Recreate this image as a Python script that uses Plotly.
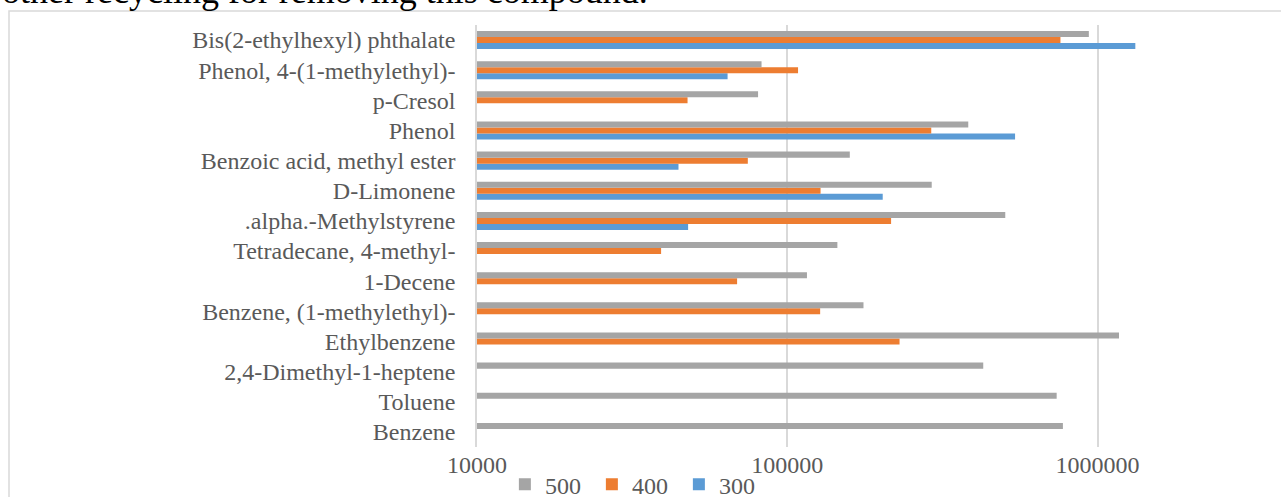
import plotly.graph_objects as go

# Compounds, listed bottom to top as they appear on the category axis
compounds = [
    "Benzene",
    "Toluene",
    "2,4-Dimethyl-1-heptene",
    "Ethylbenzene",
    "Benzene, (1-methylethyl)-",
    "1-Decene",
    "Tetradecane, 4-methyl-",
    ".alpha.-Methylstyrene",
    "D-Limonene",
    "Benzoic acid, methyl ester",
    "Phenol",
    "p-Cresol",
    "Phenol, 4-(1-methylethyl)-",
    "Bis(2-ethylhexyl) phthalate",
]

# Peak areas per temperature series (None = not detected)
area_500 = [773000, 738000, 428000, 1172000, 176000, 115700, 145000,
            504000, 292000, 159000, 383000, 80500, 82600, 937000]
area_400 = [None, None, None, 230000, 127600, 68900, 39200,
            216000, 128000, 74600, 291000, 47700, 108300, 759000]
area_300 = [None, None, None, None, None, None, None,
            47900, 203000, 44600, 542000, None, 64200, 1323000]

x_tick_values = [10000, 100000, 1000000]
x_tick_labels = ["10000", "100000", "1000000"]

series = [("300", area_300, "#5B9BD5"),
          ("400", area_400, "#ED7D31"),
          ("500", area_500, "#A5A5A5")]

FONT = "Liberation Serif, Times New Roman, serif"
TEXT_GRAY = "#595959"
GRID = "#D9D9D9"

fig = go.Figure()
for name, vals, color in series:
    fig.add_trace(go.Bar(
        y=compounds, x=vals, name=name, orientation="h",
        marker=dict(color=color, line=dict(width=0)),
    ))

W, H = 1281, 497
ML, MR, MT, MB = 477, 0, 25, 50
plot_h = H - MT - MB
plot_w = W - ML - MR

fig.update_layout(
    width=W, height=H,
    margin=dict(l=ML, r=MR, t=MT, b=MB, pad=0, autoexpand=False),
    paper_bgcolor="white", plot_bgcolor="white",
    barmode="group", bargap=0.4, bargroupgap=0,
    font=dict(family=FONT, size=24, color=TEXT_GRAY),
    showlegend=True,
    legend=dict(
        orientation="h", traceorder="reversed",
        xref="container", yref="container",
        x=0.496, xanchor="center", y=0.07, yanchor="top",
        font=dict(family=FONT, size=24, color=TEXT_GRAY),
        entrywidth=42, itemwidth=30,
        bgcolor="rgba(0,0,0,0)",
    ),
)

fig.update_xaxes(
    type="log", range=[4, 6.591], automargin=False,
    tickvals=x_tick_values, ticktext=x_tick_labels,
    showgrid=True, gridcolor=GRID, gridwidth=1.5,
    zeroline=False, showline=False, ticks="",
    ticklabelstandoff=1,
    tickfont=dict(family=FONT, size=24, color=TEXT_GRAY),
)
fig.update_yaxes(
    type="category", categoryorder="array", categoryarray=compounds,
    tickmode="array", tickvals=compounds, ticktext=compounds,
    automargin=False,
    showgrid=False, showline=True, linecolor=GRID, linewidth=1.5,
    ticks="", ticklabelstandoff=15,
    tickfont=dict(family=FONT, size=24, color=TEXT_GRAY),
)

# Chart frame (extends well past the right and bottom of the page)
fig.add_shape(
    type="rect", xref="paper", yref="paper",
    x0=(9 - ML) / plot_w, x1=1.3,
    y0=-0.5, y1=1 + (MT - 11) / plot_h,
    line=dict(color=GRID, width=1.5), fillcolor="rgba(0,0,0,0)", layer="below",
)

# Running text of the page above the chart
fig.add_annotation(
    text="other recycling for removing this compound.",
    xref="paper", yref="paper",
    x=(0 - ML) / plot_w, xanchor="left",
    y=1 + (MT + 9) / plot_h, yanchor="middle",
    showarrow=False,
    font=dict(family=FONT, size=36, color="black"),
)

fig.write_html("out.html")
